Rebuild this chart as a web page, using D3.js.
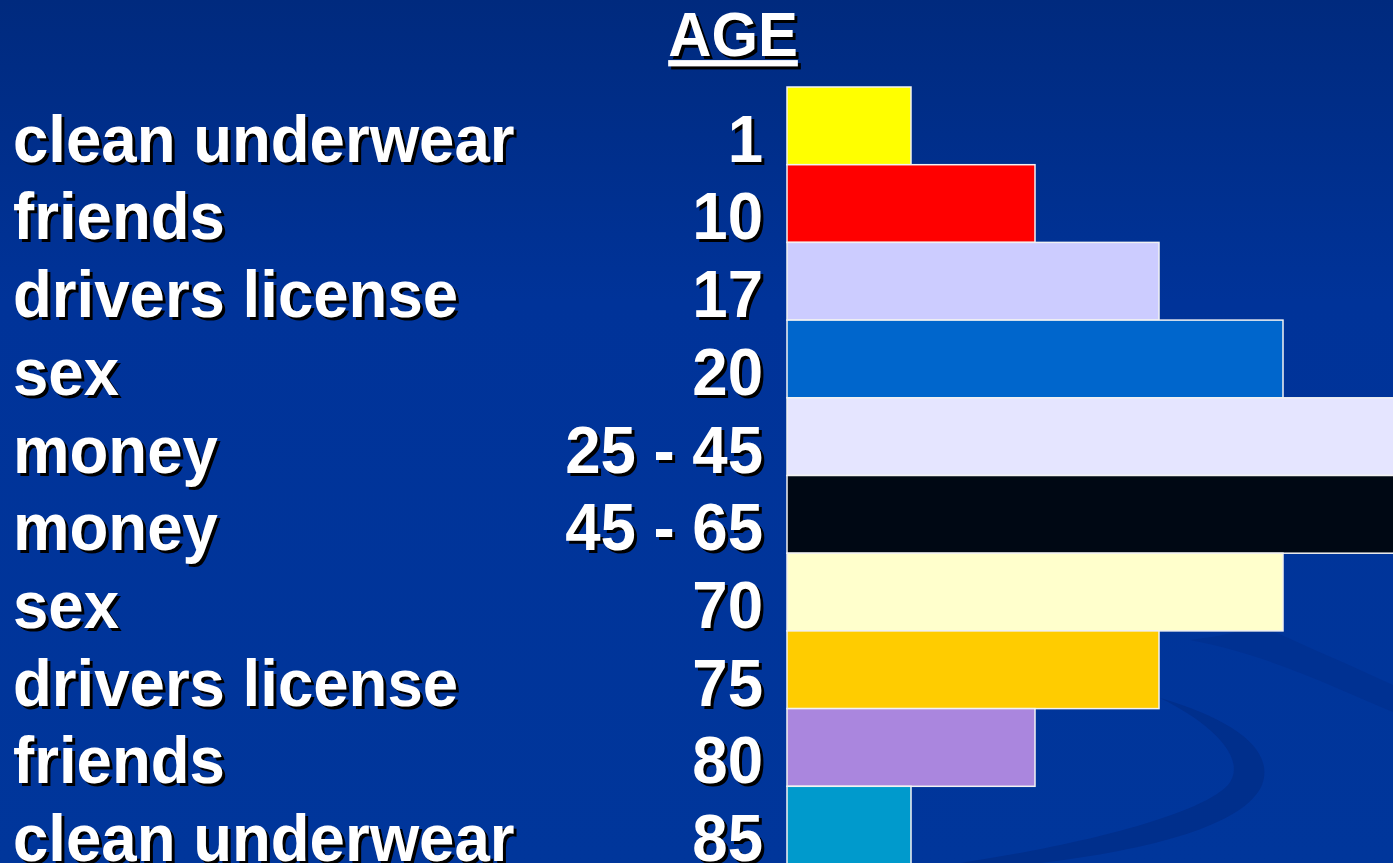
<!DOCTYPE html>
<html>
<head>
<meta charset="utf-8">
<script src="https://cdn.jsdelivr.net/npm/d3@7"></script>
<style>
  html, body { margin: 0; padding: 0; overflow: hidden; background: #003399; }
  svg { display: block; }
  text { font-family: "Liberation Sans", Arial, sans-serif; font-weight: bold; }
</style>
</head>
<body>
<script>
'use strict';

var labels = ['clean underwear', 'friends', 'drivers license', 'sex', 'money',
  'money', 'sex', 'drivers license', 'friends', 'clean underwear'];
var ages = ['1', '10', '17', '20', '25 - 45', '45 - 65', '70', '75', '80', '85'];
var values = [1, 2, 3, 4, 5, 5, 4, 3, 2, 1];
var colors = ['#ffff00', '#ff0000', '#ccccff', '#0066cc', '#e5e5ff',
  '#000814', '#ffffcc', '#ffcc00', '#aa86de', '#009acc'];

var width = 1393;
var height = 863;

var svg = d3.select('body').append('svg')
  .attr('width', width)
  .attr('height', height);

// background
var defs = svg.append('defs');
var grad = defs.append('linearGradient')
  .attr('id', 'bg')
  .attr('x1', 0).attr('y1', 0).attr('x2', 0).attr('y2', 1);
grad.append('stop').attr('offset', '0%').attr('stop-color', '#002a7e');
grad.append('stop').attr('offset', '35%').attr('stop-color', '#003399');
grad.append('stop').attr('offset', '100%').attr('stop-color', '#00369b');

svg.append('rect')
  .attr('width', width)
  .attr('height', height)
  .attr('fill', 'url(#bg)');

// swooshes in lower right
var sw = d3.path();
sw.moveTo(1160, 698);
sw.bezierCurveTo(1235, 720, 1275, 750, 1262, 785);
sw.bezierCurveTo(1245, 825, 1150, 850, 1040, 863);
sw.lineTo(960, 863);
sw.bezierCurveTo(1080, 845, 1200, 815, 1228, 785);
sw.bezierCurveTo(1248, 760, 1215, 725, 1160, 698);
sw.closePath();
svg.append('path').attr('d', sw.toString()).attr('fill', '#002f8c');

var sw2 = d3.path();
sw2.moveTo(1190, 640);
sw2.bezierCurveTo(1270, 655, 1340, 690, 1393, 712);
sw2.lineTo(1393, 685);
sw2.bezierCurveTo(1340, 660, 1290, 640, 1250, 620);
sw2.bezierCurveTo(1250, 630, 1230, 635, 1190, 640);
sw2.closePath();
svg.append('path').attr('d', sw2.toString()).attr('fill', '#003192');

var y = d3.scaleBand()
  .domain(d3.range(labels.length))
  .range([87, 864])
  .padding(0);

var x = d3.scaleLinear()
  .domain([0, 1])
  .range([787, 911]);

svg.selectAll('rect.bar')
  .data(values)
  .enter().append('rect')
  .attr('class', 'bar')
  .attr('x', x(0))
  .attr('y', function(d, i) { return y(i); })
  .attr('width', function(d) { return x(d) - x(0); })
  .attr('height', y.bandwidth())
  .attr('fill', function(d, i) { return colors[i]; })
  .attr('stroke', '#f2f2f2')
  .attr('stroke-width', 1.5);

function shadowText(g, txt, tx, ty, size, sx, anchor, deco) {
  [['#000', 3], ['#fff', 0]].forEach(function(s) {
    g.append('text')
      .attr('transform', 'translate(' + (tx + s[1]) + ',' + (ty + s[1]) + ') scale(' + sx + ',1)')
      .attr('font-size', size)
      .attr('text-anchor', anchor)
      .attr('fill', s[0])
      .style('text-decoration', deco || null)
      .text(txt);
  });
}

var textG = svg.append('g');

shadowText(textG, 'AGE', 733, 56, 63, 0.95, 'middle', 'underline');

labels.forEach(function(l, i) {
  var base = y(i) + y.bandwidth() - 3;
  shadowText(textG, l, 13, base, 66, 0.963, 'start');
  shadowText(textG, ages[i], 763, base, 66, 0.963, 'end');
});
</script>
</body>
</html>
